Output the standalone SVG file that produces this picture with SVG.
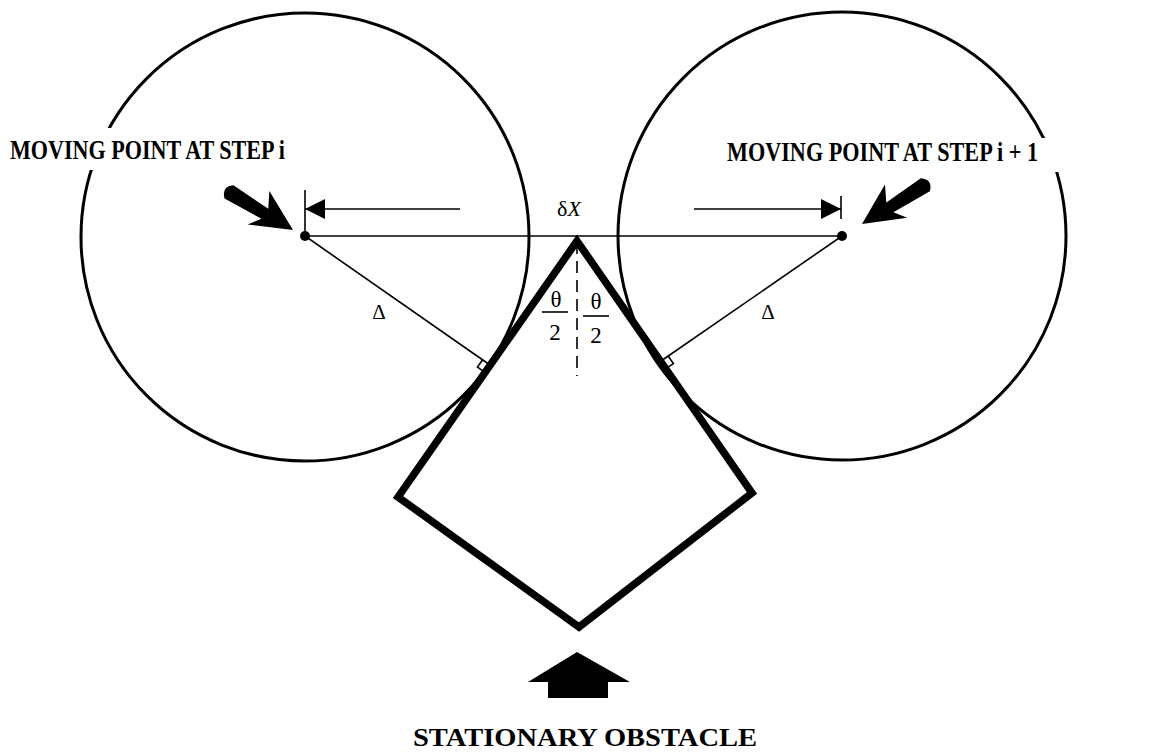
<svg xmlns="http://www.w3.org/2000/svg" width="1150" height="752" viewBox="0 0 1150 752">
<style>
.circ{fill:none;stroke:#000;stroke-width:3}
.thin{fill:none;stroke:#000;stroke-width:1.6}
.obst{fill:none;stroke:#000;stroke-width:7.5;stroke-linejoin:miter}
.lbl{font-family:"Liberation Serif",serif;font-weight:bold;fill:#000}
.math{font-family:"Liberation Serif",serif;fill:#000}
.blk{fill:#000;stroke:none}
.mask{fill:#fff;stroke:none}
</style>
<defs>
<path id="bigArrow" d="M0,0 L-40,-22 L-32,-6 L-74,-9 Q-84,-2 -75,7 L-33,6 L-42,18 Z"/>
<marker id="ah" viewBox="0 0 20 20" refX="20" refY="10" markerWidth="20" markerHeight="20" markerUnits="userSpaceOnUse" orient="auto">
<path d="M0,0 L20,10 L0,20 Z" fill="#000"/>
</marker>
</defs>
<rect width="1150" height="752" fill="#fff"/>
<g id="circle-i"><circle class="circ" cx="305" cy="237" r="224"/></g>
<g id="circle-i1"><circle class="circ" cx="842" cy="236" r="224"/></g>
<g id="obstacle"><polygon class="obst" points="577,241 398,497 579,627 752,493"/></g>
<g id="connectors">
<line class="thin" x1="305" y1="236" x2="842" y2="236" stroke-width="2"/>
<line class="thin" x1="305" y1="236" x2="490" y2="365"/>
<line class="thin" x1="842" y1="236" x2="661" y2="361"/>
<polyline class="thin" points="484.9,372.3 477.5,367.1 482.6,359.8" stroke-width="2"/>
<polyline class="thin" points="666,368.7 673.4,363.6 668.3,356.2" stroke-width="2"/>
<line class="thin" x1="577" y1="242" x2="577" y2="376" stroke-dasharray="12,7" stroke-width="2"/>
<line class="thin" x1="305" y1="190" x2="305" y2="236"/>
<line class="thin" x1="460" y1="209" x2="305" y2="209" stroke-width="2" marker-end="url(#ah)"/>
<line class="thin" x1="841" y1="196" x2="841" y2="219"/>
<line class="thin" x1="694" y1="209" x2="841" y2="209" stroke-width="2" marker-end="url(#ah)"/>
<circle class="blk" cx="305" cy="236" r="5"/>
<circle class="blk" cx="842" cy="236" r="5"/>
<use href="#bigArrow" class="blk" transform="translate(293,230) rotate(30)"/>
<use href="#bigArrow" class="blk" transform="translate(862,224) rotate(149) scale(1,-1)"/>
<polygon class="blk" points="577,652 630,682 608,682 608,698 548,698 548,682 528,682"/>
</g>
<g id="labels">
<rect class="mask" x="6" y="128" width="284" height="42"/>
<rect class="mask" x="724" y="138" width="334" height="34"/>
<text class="lbl" x="10" y="159" font-size="27" textLength="275" lengthAdjust="spacingAndGlyphs">MOVING POINT AT STEP i</text>
<text class="lbl" x="727" y="161" font-size="27" textLength="311" lengthAdjust="spacingAndGlyphs">MOVING POINT AT STEP i + 1</text>
<text class="lbl" x="413" y="746" font-size="26" textLength="344" lengthAdjust="spacingAndGlyphs">STATIONARY OBSTACLE</text>
<text class="math" x="557" y="216" font-size="22">δ<tspan font-style="italic">X</tspan></text>
<text class="math" x="379" y="319" font-size="21" text-anchor="middle">Δ</text>
<text class="math" x="768" y="319" font-size="21" text-anchor="middle">Δ</text>
<text class="math" x="556" y="307" font-size="23" text-anchor="middle">θ</text>
<line class="thin" x1="542" y1="312" x2="568" y2="312" stroke-width="2"/>
<text class="math" x="555" y="340" font-size="23" text-anchor="middle">2</text>
<text class="math" x="596" y="309" font-size="23" text-anchor="middle">θ</text>
<line class="thin" x1="583" y1="316" x2="609" y2="316" stroke-width="2"/>
<text class="math" x="596" y="343" font-size="23" text-anchor="middle">2</text>
</g>
</svg>
